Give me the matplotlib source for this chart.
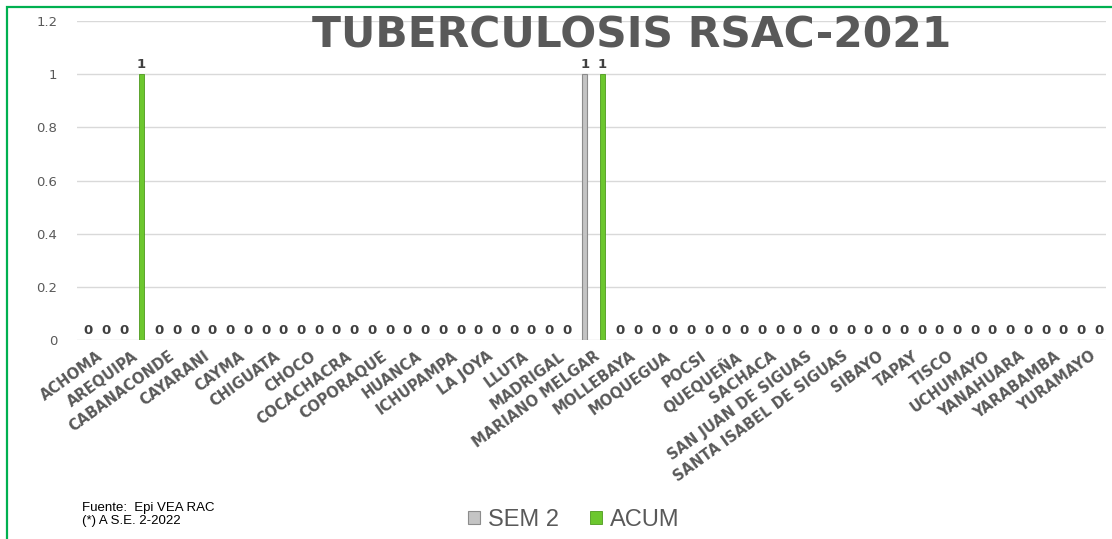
import numpy as np
import matplotlib.pyplot as plt
from matplotlib.patches import Rectangle

distritos = ['ACHOMA', 'AREQUIPA', 'CABANACONDE', 'CAYARANI', 'CAYMA', 'CHIGUATA',
             'CHOCO', 'COCACHACRA', 'COPORAQUE', 'HUANCA', 'ICHUPAMPA', 'LA JOYA',
             'LLUTA', 'MADRIGAL', 'MARIANO MELGAR', 'MOLLEBAYA', 'MOQUEGUA', 'POCSI',
             'QUEQUEÑA', 'SACHACA', 'SAN JUAN DE SIGUAS', 'SANTA ISABEL DE SIGUAS',
             'SIBAYO', 'TAPAY', 'TISCO', 'UCHUMAYO', 'YANAHUARA', 'YARABAMBA', 'YURAMAYO']
sem2 = [0, 0, 0, 0, 0, 0, 0, 0, 0, 0, 0, 0, 0, 0, 1, 0, 0, 0, 0, 0, 0, 0, 0, 0, 0, 0, 0, 0, 0]
acum = [0, 1, 0, 0, 0, 0, 0, 0, 0, 0, 0, 0, 0, 0, 1, 0, 0, 0, 0, 0, 0, 0, 0, 0, 0, 0, 0, 0, 0]
yticks = [0, 0.2, 0.4, 0.6, 0.8, 1, 1.2]
ytick_labels = ['0', '0.2', '0.4', '0.6', '0.8', '1', '1.2']

gris = '#595959'
verde = '#6CC72E'
plata = '#C4C4C4'

fig = plt.figure(figsize=(11.12, 5.39), dpi=100)
ax = fig.add_axes([0.069, 0.369, 0.9255, 0.592])

n = len(distritos)
x_sem = np.arange(n) * 2
x_acum = np.arange(n) * 2 + 1
bw = 0.3

b1 = ax.bar(x_sem, sem2, width=bw, color=plata, edgecolor='#8C8C8C', linewidth=0.8, zorder=3)
b2 = ax.bar(x_acum, acum, width=bw, color=verde, edgecolor='#4E9A1E', linewidth=0.6, zorder=3)

for xs, vals in ((x_sem, sem2), (x_acum, acum)):
    for xi, v in zip(xs, vals):
        ax.text(xi, v + 0.012, str(v), ha='center', va='bottom', fontsize=9.5,
                fontweight='bold', color='#404040')

ax.set_xlim(-0.65, 2 * n - 0.6)
ax.set_ylim(0, 1.2)
ax.set_yticks(yticks)
ax.set_yticklabels(ytick_labels, fontsize=9.5, color=gris)
ax.set_xticks(np.arange(n) * 2 + 0.5)
ax.set_xticklabels(distritos, rotation=36, ha='right', va='top', rotation_mode='anchor',
                   fontsize=10.5, fontweight='bold', color=gris)
ax.tick_params(axis='both', length=0)
ax.tick_params(axis='y', pad=14)
ax.tick_params(axis='x', pad=6)
ax.grid(axis='y', color='#D9D9D9', linewidth=1, zorder=0)
for s in ax.spines.values():
    s.set_visible(False)

fig.text(0.568, 0.934, 'TUBERCULOSIS RSAC-2021', ha='center', va='center',
         fontsize=30.5, fontweight='bold', color=gris)

fig.text(0.074, 0.045, 'Fuente:  Epi VEA RAC\n(*) A S.E. 2-2022', ha='left', va='center',
         fontsize=9.5, family='Liberation Sans', color='black', linespacing=1.15)

leg = fig.legend([b1, b2], ['SEM 2', 'ACUM'], loc='center', bbox_to_anchor=(0.516, 0.035),
                 ncol=2, frameon=False, fontsize=17, handlelength=0.5, handleheight=0.5,
                 handletextpad=0.35, columnspacing=1.3)
for t in leg.get_texts():
    t.set_color(gris)
    t.set_family('Liberation Sans')

# marco verde del grafico
fig.patches.append(Rectangle((7 / 1112, -0.1), 1.2, 1 - 7 / 539 + 0.1,
                             transform=fig.transFigure, fill=False,
                             edgecolor='#00B050', linewidth=1.6))

fig.savefig('out.png', dpi=100)
